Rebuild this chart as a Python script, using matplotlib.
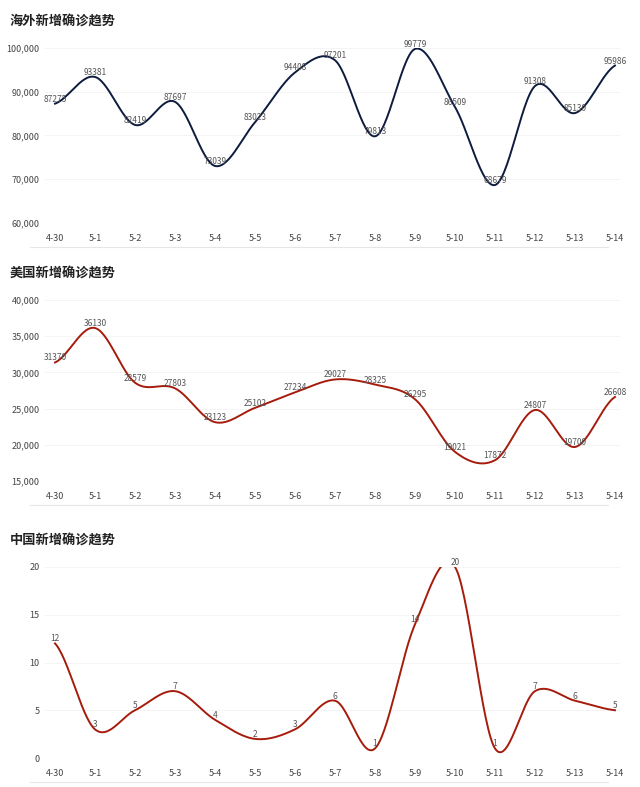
import numpy as np
import matplotlib.pyplot as plt

plt.rcParams['font.family'] = ['Noto Sans CJK SC', 'DejaVu Sans']

dates = ['4-30', '5-1', '5-2', '5-3', '5-4', '5-5', '5-6', '5-7', '5-8', '5-9',
         '5-10', '5-11', '5-12', '5-13', '5-14']
overseas = [87275, 93381, 82419, 87697, 73039, 83023, 94408, 97201, 79813, 99779,
            86509, 68679, 91308, 85130, 95986]
usa = [31370, 36130, 28579, 27803, 23123, 25102, 27234, 29027, 28325, 26295,
       19021, 17872, 24807, 19700, 26608]
china = [12, 3, 5, 7, 4, 2, 3, 6, 1, 14, 20, 1, 7, 6, 5]


def smooth(ys, n=30):
    # catmull-rom through the points
    ys = np.asarray(ys, float)
    p = np.concatenate([[ys[0]], ys, [ys[-1]]])
    xs_out, ys_out = [], []
    t = np.linspace(0, 1, n, endpoint=False)
    for i in range(len(ys) - 1):
        p0, p1, p2, p3 = p[i], p[i + 1], p[i + 2], p[i + 3]
        seg = 0.5 * (2 * p1 + (-p0 + p2) * t + (2 * p0 - 5 * p1 + 4 * p2 - p3) * t ** 2
                     + (-p0 + 3 * p1 - 3 * p2 + p3) * t ** 3)
        xs_out.extend(i + t)
        ys_out.extend(seg)
    xs_out.append(len(ys) - 1)
    ys_out.append(ys[-1])
    return np.array(xs_out), np.array(ys_out)


fig = plt.figure(figsize=(6.4, 7.87), dpi=100)
panels = [
    ('海外新增确诊趋势', overseas, '#0d1b3e', (60000, 100000), np.arange(60000, 100001, 10000), True, 48, 223),
    ('美国新增确诊趋势', usa, '#a61c0c', (15000, 40000), np.arange(15000, 40001, 5000), True, 300, 481),
    ('中国新增确诊趋势', china, '#a61c0c', (0, 20), np.arange(0, 21, 5), False, 567, 758),
]
x = np.arange(len(dates))
for title, vals, color, ylim, ticks, comma, top, bottom in panels:
    ax = fig.add_axes([45 / 640, 1 - bottom / 787, 575 / 640, (bottom - top) / 787])
    sx, sy = smooth(vals)
    ax.plot(sx, sy, color=color, lw=1.4)
    for xi, v in zip(x, vals):
        ax.text(xi, v, str(v), fontsize=6, color='#555555', ha='center', va='bottom')
    ax.set_xlim(-0.25, 14.125)
    ax.set_ylim(*ylim)
    ax.set_yticks(ticks)
    ax.set_yticklabels([f'{t:,}' if comma else str(t) for t in ticks])
    ax.set_xticks(x)
    ax.set_xticklabels(dates)
    ax.tick_params(length=0, labelsize=6.5, colors='#444444', pad=8)
    ax.tick_params(axis='y', pad=4)
    ax.grid(axis='y', color='#f2f2f2', lw=0.6)
    for s in ax.spines.values():
        s.set_visible(False)
    fig.text(10 / 640, 1 - (top - 26) / 787, title, fontsize=9.5, fontweight='bold',
             color='#222222', va='center')
    fig.add_artist(plt.Line2D([30 / 640, 608 / 640], [1 - (bottom + 24) / 787] * 2,
                              color='#e6e6e6', lw=0.8))

fig.savefig('out.png', dpi=100, facecolor='white')
